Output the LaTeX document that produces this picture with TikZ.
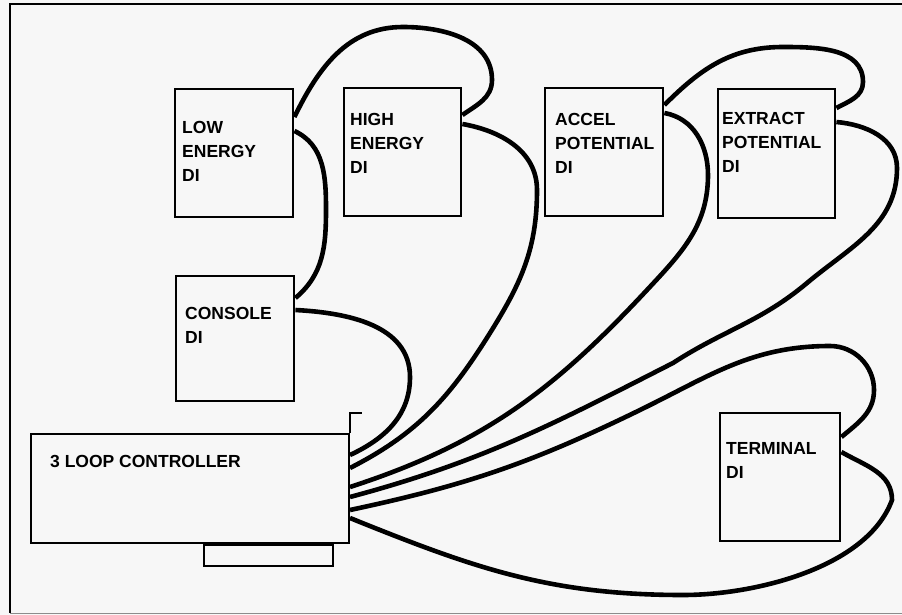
\documentclass[tikz,border=0pt]{standalone}
\usepackage{fontspec}
\setmainfont{Liberation Sans}
\usetikzlibrary{positioning}
\tikzstyle{dibox}=[draw,rectangle,line width=2.4pt,anchor=north west,inner sep=0pt]
\tikzstyle{lbl}=[inner sep=0pt,align=left,font=\bfseries\fontsize{17.5}{24}\selectfont]
\tikzstyle{wire}=[line width=4.6pt]

\begin{document}
\begin{tikzpicture}[x=1pt,y=-1pt]
    \useasboundingbox[fill=black!3] (0,0) rectangle (902,615);
    \draw [line width=2pt] (902,4) -- (10,4) -- (10,613);
    \draw [line width=1pt,black!45] (10,613) -- (902,613);

    \node [dibox,minimum width=118pt,minimum height=128pt] (low) at (174,88) {};
    \node [dibox,minimum width=117pt,minimum height=128pt] (high) at (343,87) {};
    \node [dibox,minimum width=118pt,minimum height=128pt] (accel) at (544,87) {};
    \node [dibox,minimum width=117pt,minimum height=129pt] (extract) at (717,88) {};
    \node [dibox,minimum width=118pt,minimum height=125pt] (console) at (175,275) {};
    \node [dibox,minimum width=120pt,minimum height=128pt] (terminal) at (719,412) {};
    \node [dibox,line width=2pt,minimum width=318pt,minimum height=109pt] (ctrl) at (30,433) {};
    \node [dibox,line width=1.5pt,minimum width=129pt,minimum height=21pt,
        below right=0pt and 173pt of ctrl.south west] (tab) {};
    \draw [line width=1.5pt] (ctrl.north east) -- ++(0,-20) -- ++(12,0);

    \node [lbl,below right=33pt and 8pt of low.north west] (lowtxt) {LOW\\ENERGY\\DI};
    \node [lbl,below right=26pt and 7pt of high.north west] (hightxt) {HIGH\\ENERGY\\DI};
    \node [lbl,below right=26pt and 11pt of accel.north west] (acceltxt) {ACCEL\\POTENTIAL\\DI};
    \node [lbl,below right=24pt and 5pt of extract.north west] (extracttxt) {EXTRACT\\POTENTIAL\\DI};
    \node [lbl,below right=32pt and 10pt of console.north west] (consoletxt) {CONSOLE\\DI};
    \node [lbl,below right=30pt and 7pt of terminal.north west] (terminaltxt) {TERMINAL\\DI};
    \node [lbl,below right=22pt and 20pt of ctrl.north west] (ctrltxt) {3 LOOP CONTROLLER};

    \draw [wire] ([yshift=-29pt]low.north east) to[out=64,in=180] (403,27)
        to[out=0,in=90] (492,80) to[out=-90,in=35] ([yshift=-28pt]high.north east);
    \draw [wire] ([yshift=-43pt]low.north east) to[out=-25,in=90] (326,210)
        to[out=-90,in=40] ([yshift=-23pt]console.north east);
    \draw [wire] ([yshift=-35pt]console.north east) to[out=-3,in=90] (410,377)
        to[out=-90,in=25] ([yshift=-22pt]ctrl.north east);
    \draw [wire] ([yshift=-37pt]high.north east) to[out=-10,in=90] (537,190)
        to[out=-90,in=58] (490,333) to[out=-122,in=27] ([yshift=-35pt]ctrl.north east);
    \draw [wire] ([yshift=-18pt]accel.north east) to[out=45,in=180] (783,47)
        to[out=0,in=90] (863,82) to[out=-90,in=28] ([yshift=-20pt]extract.north east);
    \draw [wire] ([yshift=-26pt]accel.north east) to[out=-10,in=90] (708,175)
        to[out=-90,in=47] (647,290) to[out=-133,in=18] ([yshift=-54pt]ctrl.north east);
    \draw [wire] ([yshift=-34pt]extract.north east) to[out=-5,in=90] (897,168)
        to[out=-90,in=40] (807,283) to[out=-140,in=33] (673,363)
        to[out=-153,in=15] ([yshift=-64pt]ctrl.north east);
    \draw [wire] ([yshift=-77pt]ctrl.north east) to[out=12,in=206] (640,410)
        to[out=26,in=180] (830,346) to[out=0,in=90] (874,390)
        to[out=-90,in=40] ([yshift=-25pt]terminal.north east);
    \draw [wire] ([yshift=-85pt]ctrl.north east) to[out=-22,in=180] (683,595)
        to[out=0,in=-110,looseness=0.8] (892,500)
        to[out=90,in=-30] ([yshift=-40pt]terminal.north east);
\end{tikzpicture}
\end{document}
